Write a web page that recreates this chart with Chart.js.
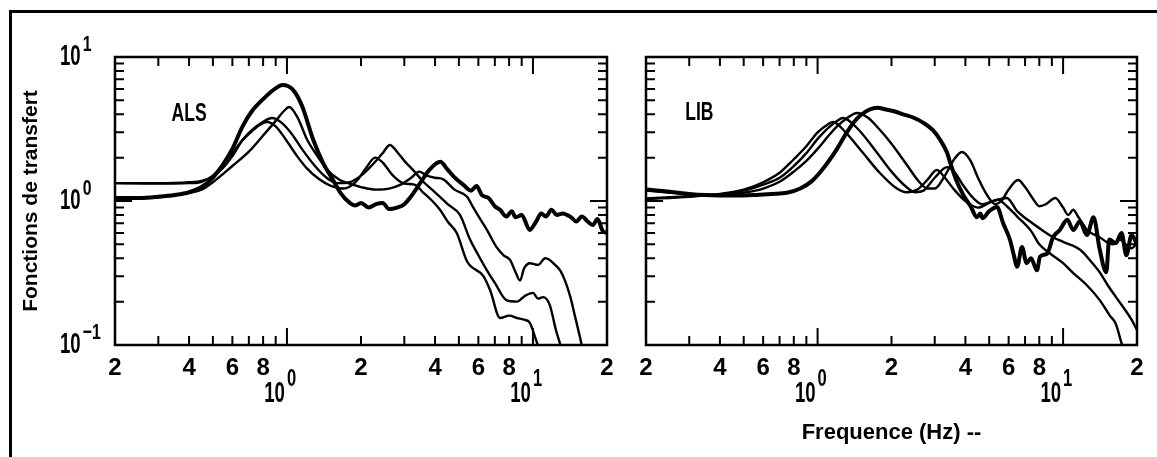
<!DOCTYPE html>
<html lang="fr">
<head>
<meta charset="UTF-8">
<title>Fonctions de transfert ALS / LIB</title>
<script src="https://cdn.jsdelivr.net/npm/chart.js"></script>
<style>
  * { margin: 0; padding: 0; box-sizing: border-box; }
  body { background: #fff; width: 1157px; height: 457px; overflow: hidden; position: relative; }
  .frame-top { position: absolute; left: 9px; top: 10px; width: 1148px; height: 3px; background: #000; }
  .frame-left { position: absolute; left: 9px; top: 10px; width: 3px; height: 447px; background: #000; }
  #alsChart { position: absolute; left: 0; top: 0; }
  #libChart { position: absolute; left: 627px; top: 0; }
</style>
</head>
<body>
<div class="frame-top"></div>
<div class="frame-left"></div>
<canvas id="alsChart" width="627" height="457"></canvas>
<canvas id="libChart" width="530" height="457"></canvas>

<script>
// axes
const xTickValues = [0.2, 0.3, 0.4, 0.5, 0.6, 0.7, 0.8, 0.9, 1, 2, 3, 4, 5, 6, 7, 8, 9, 10, 20];
const xLabelValues = [0.2, 0.4, 0.6, 0.8, 2, 4, 6, 8, 20];
const xLabelTexts = ['2', '4', '6', '8', '2', '4', '6', '8', '2'];
const xDecades = [1, 10];
const xDecadeExp = ['0', '1'];
const yTickValues = [0.2, 0.3, 0.4, 0.5, 0.6, 0.7, 0.8, 0.9, 1, 2, 3, 4, 5, 6, 7, 8, 9];
const yDecades = [0.1, 1, 10];
const yDecadeExp = ['\u22121', '0', '1'];
const yTitle = 'Fonctions de transfert';
const xTitle = 'Frequence (Hz) --';

// ALS site, [frequency Hz, amplitude]
const alsThick = [[0.2,1.05],[0.25,1.05],[0.3,1.07],[0.35,1.1],[0.4,1.15],[0.45,1.25],[0.5,1.45],[0.55,1.8],[0.6,2.3],[0.66,3.3],[0.72,4.2],[0.8,5.1],[0.88,5.9],[0.96,6.4],[1.05,6.0],[1.15,4.6],[1.28,2.65],[1.4,1.85],[1.54,1.4],[1.65,1.14],[1.8,0.97],[1.9,0.93],[2.0,0.97],[2.15,0.9],[2.3,0.95],[2.45,0.97],[2.6,0.88],[2.8,0.9],[3.0,0.95],[3.2,1.08],[3.5,1.35],[3.8,1.65],[4.2,1.87],[4.5,1.65],[4.8,1.46],[5.2,1.3],[5.6,1.18],[5.9,1.27],[6.2,1.1],[6.6,1.05],[7.0,0.92],[7.35,0.87],[7.8,0.78],[8.2,0.85],[8.5,0.77],[9.0,0.8],[9.7,0.63],[10.3,0.72],[10.8,0.82],[11.3,0.78],[11.9,0.87],[12.5,0.8],[13.2,0.82],[14.3,0.77],[15,0.72],[15.8,0.78],[16.7,0.72],[17.5,0.68],[18.3,0.75],[19.2,0.62],[20,0.6]];
const alsB = [[0.2,1.03],[0.3,1.06],[0.4,1.14],[0.45,1.2],[0.5,1.35],[0.6,1.75],[0.7,2.2],[0.8,2.85],[0.9,3.6],[0.97,4.2],[1.02,4.5],[1.1,3.85],[1.21,2.65],[1.33,2.05],[1.46,1.64],[1.64,1.4],[1.8,1.32],[2.0,1.25],[2.3,1.2],[2.6,1.22],[2.9,1.3],[3.2,1.45],[3.45,1.6],[3.7,1.5],[4.0,1.45],[4.3,1.42],[4.8,1.2],[5.4,1.07],[5.7,0.91],[6.1,0.75],[6.5,0.63],[7.1,0.48],[7.6,0.42],[8.07,0.39],[8.5,0.32],[8.86,0.28],[9.2,0.34],[9.73,0.37],[10.5,0.36],[11.2,0.4],[11.7,0.39],[12.3,0.36],[12.9,0.33],[13.5,0.28],[14.2,0.215],[14.8,0.16],[15.5,0.115],[16,0.09]];
const alsC = [[0.2,1.33],[0.3,1.33],[0.4,1.35],[0.45,1.38],[0.5,1.48],[0.55,1.7],[0.6,2.05],[0.66,2.65],[0.72,3.1],[0.8,3.55],[0.87,3.77],[0.95,3.5],[1.05,2.9],[1.15,2.3],[1.3,1.75],[1.45,1.45],[1.6,1.33],[1.8,1.35],[2.0,1.5],[2.2,1.75],[2.45,2.15],[2.62,2.45],[2.8,2.2],[3.0,1.9],[3.3,1.6],[3.6,1.35],[4.0,1.15],[4.5,0.95],[5.05,0.8],[5.55,0.54],[6.0,0.42],[6.5,0.33],[7.0,0.27],[7.8,0.205],[8.6,0.2],[9.3,0.22],[10,0.23],[10.5,0.21],[11,0.215],[11.7,0.19],[12.4,0.127],[13.2,0.09]];
const alsD = [[0.2,1.33],[0.3,1.32],[0.4,1.33],[0.45,1.36],[0.5,1.5],[0.55,1.8],[0.6,2.15],[0.66,2.65],[0.72,3.05],[0.78,3.4],[0.83,3.54],[0.9,3.3],[1.0,2.6],[1.1,2.05],[1.2,1.7],[1.35,1.42],[1.5,1.28],[1.7,1.22],[1.9,1.35],[2.1,1.7],[2.28,2.0],[2.45,1.85],[2.7,1.5],[3.0,1.32],[3.3,1.3],[3.57,1.15],[3.9,1.0],[4.19,0.87],[4.5,0.72],[4.9,0.6],[5.4,0.38],[6.3,0.3],[6.7,0.24],[7.35,0.154],[8.0,0.16],[8.6,0.154],[9.2,0.15],[9.7,0.143],[10.3,0.108],[10.8,0.085]];

// LIB site, [frequency Hz, amplitude]
const libThick = [[0.2,1.2],[0.25,1.16],[0.3,1.12],[0.35,1.1],[0.45,1.09],[0.55,1.1],[0.65,1.12],[0.75,1.14],[0.85,1.22],[0.95,1.38],[1.02,1.57],[1.1,1.85],[1.2,2.3],[1.3,2.9],[1.4,3.5],[1.5,3.95],[1.62,4.3],[1.75,4.45],[1.9,4.32],[2.05,4.2],[2.23,4.0],[2.45,3.8],[2.69,3.5],[2.95,3.1],[3.16,2.65],[3.37,2.16],[3.47,1.84],[3.67,1.4],[3.9,1.12],[4.2,0.92],[4.46,0.77],[4.6,0.82],[4.7,0.76],[5.0,0.85],[5.38,0.91],[5.7,0.7],[6.08,0.536],[6.3,0.42],[6.5,0.35],[6.8,0.48],[7.1,0.37],[7.4,0.4],[7.83,0.33],[8.05,0.41],[8.6,0.43],[9.1,0.56],[9.7,0.63],[10.4,0.74],[11,0.63],[11.7,0.72],[12.5,0.58],[13.3,0.77],[14.1,0.46],[15,0.32],[15.4,0.54],[16.4,0.51],[17.3,0.6],[18.1,0.42],[19,0.58],[20,0.5]];
const libB = [[0.2,1.18],[0.3,1.12],[0.4,1.1],[0.5,1.14],[0.6,1.22],[0.7,1.36],[0.8,1.6],[0.9,1.9],[1.0,2.3],[1.1,2.8],[1.2,3.3],[1.3,3.7],[1.45,4.08],[1.6,3.8],[1.8,3.1],[2.0,2.5],[2.3,1.8],[2.6,1.35],[2.8,1.22],[3.0,1.22],[3.3,1.5],[3.6,1.95],[3.87,2.19],[4.2,1.9],[4.5,1.45],[4.9,1.1],[5.3,0.95],[5.6,1.0],[6.0,1.2],[6.55,1.4],[7.0,1.25],[7.5,1.05],[8.0,0.92],[8.5,0.95],[9.3,1.05],[10,0.9],[10.5,0.8],[11,0.87],[11.5,0.78],[12,0.7],[12.5,0.63],[13,0.6],[14.1,0.56],[15,0.52],[16,0.5],[17,0.54],[18,0.5],[19,0.47],[20,0.51]];
const libC = [[0.2,1.04],[0.3,1.08],[0.4,1.11],[0.5,1.18],[0.6,1.3],[0.7,1.45],[0.8,1.75],[0.9,2.15],[1.0,2.7],[1.1,3.2],[1.2,3.6],[1.27,3.77],[1.45,3.2],[1.7,2.3],[2.0,1.6],[2.3,1.25],[2.5,1.15],[2.7,1.18],[3.0,1.45],[3.37,1.72],[3.6,1.6],[3.9,1.3],[4.3,1.05],[4.7,0.95],[5.2,1.0],[5.9,1.05],[6.5,0.85],[7.5,0.7],[8.3,0.62],[9.1,0.56],[10,0.52],[11.7,0.46],[13,0.38],[14.1,0.32],[15.2,0.26],[16.4,0.216],[17.7,0.18],[19,0.15],[20,0.127]];
const libD = [[0.2,1.03],[0.3,1.07],[0.4,1.12],[0.5,1.2],[0.6,1.35],[0.7,1.57],[0.8,1.95],[0.9,2.4],[1.0,3.0],[1.1,3.4],[1.156,3.54],[1.3,3.0],[1.53,2.16],[1.79,1.57],[2.09,1.23],[2.3,1.15],[2.55,1.2],[2.8,1.4],[3.06,1.64],[3.3,1.45],[3.6,1.2],[4.0,1.0],[4.5,0.9],[5.0,0.97],[5.4,1.02],[5.9,0.92],[6.5,0.78],[7.4,0.62],[8.0,0.5],[8.8,0.435],[10,0.37],[11,0.316],[12.5,0.26],[14.1,0.205],[15.5,0.16],[16.4,0.14],[17.3,0.103],[18,0.085]];

const FONT = "'Liberation Sans', Arial, sans-serif";
Chart.defaults.font.family = FONT;
Chart.defaults.font.weight = 'bold';
Chart.defaults.color = '#000';

function curve(points, width) {
    return {
        data: points.map(([x, y]) => ({ x, y })),
        borderColor: '#000',
        borderWidth: width,
        pointRadius: 0,
        cubicInterpolationMode: 'monotone',
        fill: false
    };
}

// narrow text: squeeze horizontally like the plotter font
function narrowText(ctx, text, x, y, size, align, sx) {
    ctx.save();
    ctx.font = 'bold ' + size + 'px ' + FONT;
    ctx.textAlign = align;
    ctx.textBaseline = 'middle';
    ctx.translate(x, y);
    ctx.scale(sx, 1);
    ctx.fillText(text, 0, 0);
    const w = ctx.measureText(text).width * sx;
    ctx.restore();
    return w;
}

// box, inward ticks, power-of-ten labels, panel name
const panelFrame = {
    id: 'panelFrame',
    afterDatasetsDraw(chart, args, opts) {
        const { ctx, chartArea: a, scales: { x, y } } = chart;
        ctx.save();
        ctx.strokeStyle = '#000';
        ctx.fillStyle = '#000';
        ctx.lineWidth = 2.5;
        ctx.strokeRect(a.left, a.top, a.right - a.left, a.bottom - a.top);

        ctx.lineWidth = 2;
        ctx.beginPath();
        xTickValues.forEach(v => {
            const px = x.getPixelForValue(v);
            const len = xDecades.includes(v) ? 17 : 9;
            ctx.moveTo(px, a.bottom); ctx.lineTo(px, a.bottom - len);
            ctx.moveTo(px, a.top); ctx.lineTo(px, a.top + len);
        });
        yTickValues.forEach(v => {
            const py = y.getPixelForValue(v);
            const len = v === 1 ? 17 : 9;
            ctx.moveTo(a.left, py); ctx.lineTo(a.left + len, py);
            ctx.moveTo(a.right, py); ctx.lineTo(a.right - len, py);
        });
        ctx.stroke();

        xDecades.forEach((d, i) => {
            const px = x.getPixelForValue(d);
            narrowText(ctx, '10', px - 2, a.bottom + 49, 30, 'right', 0.62);
            narrowText(ctx, xDecadeExp[i], px, a.bottom + 35, 23, 'left', 0.72);
        });

        if (opts.showY) {
            yDecades.forEach((d, i) => {
                const py = y.getPixelForValue(d);
                const w = narrowText(ctx, '10', 60, py, 29, 'left', 0.64);
                narrowText(ctx, yDecadeExp[i], 60 + w + 2, py - 12, 22, 'left', 0.72);
            });
        }

        narrowText(ctx, opts.name, x.getPixelForValue(opts.at[0]), y.getPixelForValue(opts.at[1]), 25, 'center', 0.7);
        ctx.restore();
    }
};

function panelOptions(name, at, showY, title) {
    return {
        responsive: false,
        animation: false,
        layout: { padding: { top: 57, right: 20, left: showY ? 0 : 19, bottom: 0 } },
        plugins: {
            legend: { display: false },
            tooltip: { enabled: false },
            panelFrame: { name, at, showY }
        },
        scales: {
            x: {
                type: 'logarithmic',
                min: 0.2,
                max: 20,
                afterBuildTicks: s => { s.ticks = xTickValues.map(v => ({ value: v })); },
                afterFit: s => { s.height = 112; },
                grid: { display: false },
                border: { display: false },
                ticks: {
                    autoSkip: false,
                    maxRotation: 0,
                    padding: 1,
                    font: { size: 24, weight: 'bold' },
                    callback: v => {
                        const i = xLabelValues.indexOf(v);
                        return i < 0 ? '' : xLabelTexts[i];
                    }
                },
                title: title
                    ? { display: true, text: title, font: { size: 22, weight: 'bold' }, padding: { top: 0, bottom: 11 } }
                    : { display: false }
            },
            y: {
                type: 'logarithmic',
                min: 0.1,
                max: 10,
                display: showY,
                afterFit: s => { s.width = showY ? 115 : 0; },
                grid: { display: false },
                border: { display: false },
                ticks: { display: false },
                title: { display: true, text: yTitle, font: { size: 21, weight: 'bold' }, padding: { top: 19, bottom: 0 } }
            }
        }
    };
}

new Chart(document.getElementById('alsChart'), {
    type: 'line',
    data: { datasets: [curve(alsThick, 4), curve(alsB, 2.4), curve(alsC, 2.4), curve(alsD, 2.4)] },
    options: panelOptions('ALS', [0.4, 4.0], true, null),
    plugins: [panelFrame]
});

new Chart(document.getElementById('libChart'), {
    type: 'line',
    data: { datasets: [curve(libThick, 4), curve(libB, 2.4), curve(libC, 2.4), curve(libD, 2.4)] },
    options: panelOptions('LIB', [0.33, 4.1], false, xTitle),
    plugins: [panelFrame]
});
</script>
</body>
</html>
